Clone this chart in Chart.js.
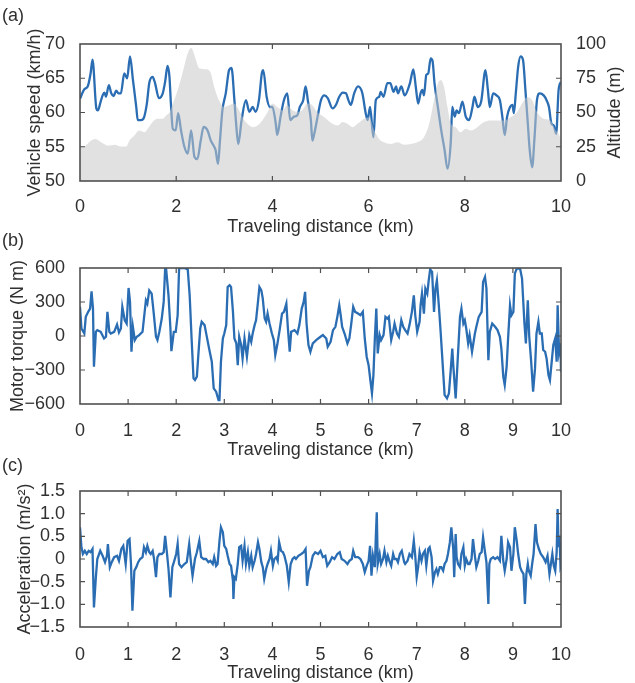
<!DOCTYPE html>
<html lang="en">
<head>
<meta charset="UTF-8">
<title>Vehicle speed, motor torque and acceleration</title>
<script src="https://cdn.jsdelivr.net/npm/chart.js"></script>
<style>
  html, body { margin: 0; padding: 0; background: #fff; overflow: hidden; }
  body { width: 635px; height: 683px; position: relative; font-family: "Liberation Sans", Arial, sans-serif; }
  canvas { position: absolute; left: 0; }
  .tag { position: absolute; left: 2px; font-size: 18px; line-height: 20px; color: #303030; }
</style>
</head>
<body>
<canvas id="speedChart" width="635" height="241" style="top:0px"></canvas>
<canvas id="torqueChart" width="635" height="214" style="top:250px"></canvas>
<canvas id="accelChart" width="635" height="217" style="top:470px"></canvas>
<div class="tag" style="top:5px">(a)</div>
<div class="tag" style="top:230px">(b)</div>
<div class="tag" style="top:455px">(c)</div>

<script>
// ---- (a) vehicle speed and road altitude ----
const speedKm = [0.00, 0.09, 0.16, 0.22, 0.26, 0.34, 0.37, 0.43, 0.47, 0.51, 0.54, 0.60, 0.65, 0.70, 0.75, 0.80,
  0.85, 0.92, 0.98, 1.04, 1.10, 1.17, 1.20, 1.27, 1.32, 1.39, 1.44, 1.51, 1.56, 1.64, 1.72, 1.77, 1.82, 1.86,
  1.89, 1.93, 1.99, 2.04, 2.10, 2.17, 2.24, 2.31, 2.38, 2.44, 2.51, 2.57, 2.65, 2.72, 2.79, 2.82, 2.87, 2.91,
  2.96, 3.03, 3.10, 3.15, 3.21, 3.24, 3.29, 3.36, 3.45, 3.52, 3.59, 3.65, 3.72, 3.78, 3.81, 3.88, 3.95, 4.00,
  4.07, 4.10, 4.17, 4.24, 4.31, 4.37, 4.45, 4.52, 4.57, 4.64, 4.69, 4.74, 4.80, 4.83, 4.87, 4.94, 5.01, 5.08,
  5.15, 5.25, 5.32, 5.39, 5.46, 5.53, 5.58, 5.63, 5.70, 5.78, 5.87, 5.94, 5.98, 6.03, 6.10, 6.15, 6.22, 6.25,
  6.31, 6.39, 6.45, 6.52, 6.57, 6.61, 6.68, 6.75, 6.86, 6.93, 6.98, 7.03, 7.08, 7.12, 7.15, 7.20, 7.24, 7.29,
  7.33, 7.37, 7.44, 7.51, 7.58, 7.64, 7.71, 7.74, 7.79, 7.83, 7.88, 7.95, 8.02, 8.09, 8.16, 8.20, 8.27, 8.34,
  8.43, 8.48, 8.52, 8.59, 8.66, 8.73, 8.78, 8.83, 8.88, 8.94, 8.99, 9.02, 9.06, 9.11, 9.16, 9.21, 9.26, 9.31,
  9.35, 9.40, 9.45, 9.50, 9.56, 9.64, 9.70, 9.75, 9.80, 9.85, 9.90, 9.95, 10.00];
const speedKmh = [62.0, 63.4, 63.8, 65.7, 67.7, 60.6, 60.3, 61.6, 62.5, 62.9, 62.3, 64.0, 62.8, 62.4, 63.2, 62.8,
  62.8, 65.7, 65.0, 68.2, 64.8, 60.8, 58.9, 58.9, 59.1, 61.3, 64.3, 65.2, 64.3, 62.1, 62.8, 64.5, 66.8, 65.2,
  61.3, 57.6, 57.4, 59.9, 57.4, 55.0, 54.0, 57.4, 53.5, 53.2, 55.9, 57.9, 57.4, 55.9, 55.0, 54.5, 52.5, 55.9,
  60.3, 62.8, 66.2, 66.5, 61.8, 58.9, 55.4, 58.9, 61.8, 60.1, 60.8, 60.1, 61.8, 65.7, 66.2, 62.3, 60.8, 60.8,
  58.4, 56.7, 59.4, 61.8, 62.8, 58.9, 59.4, 59.6, 60.8, 61.8, 63.8, 61.6, 58.9, 55.9, 56.9, 59.4, 61.8, 62.5,
  62.1, 60.6, 61.1, 62.3, 62.9, 62.8, 61.8, 61.1, 62.8, 63.8, 62.8, 59.9, 58.9, 60.8, 56.4, 61.8, 62.3, 63.0,
  62.3, 64.3, 64.3, 63.0, 63.8, 62.8, 63.8, 62.5, 64.3, 66.3, 63.8, 61.3, 62.8, 63.3, 62.5, 65.5, 65.7, 67.9,
  67.5, 64.3, 60.8, 57.4, 54.5, 51.8, 55.9, 60.8, 59.4, 60.3, 59.9, 61.6, 59.4, 58.9, 60.8, 62.3, 60.8, 61.6,
  66.2, 63.3, 60.8, 62.8, 62.5, 61.8, 59.4, 56.7, 59.4, 60.8, 61.1, 59.9, 62.8, 66.7, 68.2, 67.7, 63.3, 58.4,
  54.5, 52.0, 56.4, 61.8, 62.8, 62.5, 61.8, 60.8, 58.4, 58.1, 56.9, 63.3, 64.5];

const altKm = [0.00, 0.09, 0.23, 0.33, 0.44, 0.58, 0.72, 0.85, 0.96, 1.03, 1.13, 1.23, 1.34, 1.41, 1.51, 1.61,
  1.72, 1.79, 1.86, 1.93, 2.03, 2.13, 2.24, 2.31, 2.34, 2.41, 2.48, 2.62, 2.72, 2.79, 2.89, 3.00, 3.10, 3.20,
  3.27, 3.38, 3.48, 3.59, 3.69, 3.79, 3.90, 4.00, 4.10, 4.21, 4.31, 4.42, 4.52, 4.62, 4.73, 4.83, 4.93, 5.08,
  5.25, 5.36, 5.46, 5.56, 5.67, 5.77, 5.91, 6.01, 6.12, 6.22, 6.32, 6.46, 6.60, 6.74, 6.88, 7.01, 7.15, 7.26,
  7.36, 7.44, 7.50, 7.57, 7.64, 7.71, 7.81, 7.91, 8.02, 8.12, 8.26, 8.40, 8.54, 8.67, 8.81, 8.95, 9.09, 9.19,
  9.30, 9.40, 9.50, 9.64, 9.78, 9.89, 9.95, 10.00];
const altM = [24.6, 25.1, 29.5, 30.7, 28.2, 25.8, 26.5, 25.1, 25.1, 29.5, 33.2, 36.8, 35.6, 38.1, 43.0, 45.4,
  45.4, 47.9, 50.0, 56.5, 66.3, 78.6, 93.3, 97.0, 95.8, 88.4, 82.3, 81.5, 78.6, 68.7, 58.9, 54.0, 55.3, 56.5,
  54.0, 46.6, 41.7, 39.3, 40.5, 44.2, 50.4, 56.5, 54.0, 51.6, 55.3, 51.6, 50.4, 51.6, 56.5, 55.3, 50.4, 46.6,
  41.7, 40.5, 43.0, 41.7, 39.3, 41.7, 45.4, 46.6, 36.8, 30.7, 28.2, 27.0, 28.2, 26.5, 27.0, 28.2, 31.9, 41.7,
  58.9, 71.2, 73.7, 68.7, 54.0, 41.7, 39.3, 35.6, 38.1, 36.8, 39.3, 43.0, 44.2, 44.2, 44.2, 46.6, 50.4, 56.5,
  61.4, 58.9, 50.4, 45.4, 44.2, 36.8, 34.4, 30.0];

// ---- (b) motor torque ----
const torqueKm = [0.00, 0.03, 0.09, 0.12, 0.17, 0.21, 0.24, 0.27, 0.29, 0.33, 0.36, 0.43, 0.50, 0.54, 0.57, 0.61,
  0.64, 0.71, 0.77, 0.81, 0.85, 0.88, 0.93, 0.97, 1.01, 1.04, 1.07, 1.10, 1.14, 1.18, 1.23, 1.30, 1.37, 1.40,
  1.44, 1.49, 1.53, 1.58, 1.61, 1.65, 1.70, 1.74, 1.77, 1.79, 1.84, 1.88, 1.90, 1.95, 1.99, 2.03, 2.06, 2.10,
  2.17, 2.24, 2.28, 2.32, 2.36, 2.39, 2.43, 2.46, 2.50, 2.53, 2.59, 2.63, 2.69, 2.74, 2.78, 2.83, 2.88, 2.90,
  2.93, 2.97, 3.00, 3.04, 3.07, 3.11, 3.14, 3.18, 3.21, 3.25, 3.28, 3.31, 3.35, 3.38, 3.42, 3.47, 3.52, 3.56,
  3.59, 3.63, 3.66, 3.70, 3.73, 3.77, 3.80, 3.84, 3.87, 3.90, 3.94, 3.99, 4.03, 4.06, 4.10, 4.15, 4.20, 4.24,
  4.29, 4.32, 4.36, 4.39, 4.46, 4.52, 4.56, 4.61, 4.65, 4.68, 4.71, 4.75, 4.79, 4.84, 4.91, 5.00, 5.05, 5.12,
  5.15, 5.21, 5.26, 5.31, 5.35, 5.39, 5.42, 5.45, 5.50, 5.56, 5.60, 5.64, 5.68, 5.72, 5.78, 5.83, 5.88, 5.92,
  5.96, 6.00, 6.04, 6.07, 6.10, 6.13, 6.16, 6.19, 6.23, 6.26, 6.31, 6.35, 6.39, 6.42, 6.47, 6.51, 6.54, 6.59,
  6.63, 6.68, 6.72, 6.76, 6.81, 6.85, 6.90, 6.94, 6.97, 7.01, 7.06, 7.08, 7.11, 7.15, 7.18, 7.22, 7.25, 7.28,
  7.32, 7.36, 7.39, 7.42, 7.46, 7.50, 7.55, 7.58, 7.63, 7.67, 7.71, 7.74, 7.76, 7.81, 7.85, 7.90, 7.93, 7.97,
  8.00, 8.03, 8.07, 8.10, 8.15, 8.21, 8.24, 8.29, 8.35, 8.38, 8.42, 8.45, 8.49, 8.52, 8.57, 8.63, 8.68, 8.73,
  8.76, 8.80, 8.83, 8.87, 8.90, 8.94, 8.97, 9.01, 9.04, 9.08, 9.15, 9.19, 9.24, 9.27, 9.31, 9.34, 9.38, 9.42,
  9.46, 9.49, 9.53, 9.56, 9.60, 9.63, 9.67, 9.70, 9.74, 9.77, 9.81, 9.84, 9.88, 9.91, 9.93, 9.96, 9.99, 10.00];
const torqueNm = [257, 66, 22, 169, 213, 242, 394, 242, -271, 37, 52, 37, -22, -7, 213, 37,
  22, 37, 101, 31, 66, 257, 139, 110, 424, 301, -139, 81, -36, -7, 8, 37, 315, 286,
  403, 374, 213, -7, -36, 37, 154, 301, 594, 594, 359, 66, -134, 37, 37, 183, 594, 600,
  600, 588, 359, -22, -374, -389, -359, -169, 66, 125, 96, 8, -124, -227, -462, -491, -565, -565,
  -227, -22, 22, 96, 433, 448, 433, 213, -22, -65, -257, -7, -80, -198, -22, -183, 8, -51,
  22, 96, 139, 301, 433, 403, 330, 154, 125, 198, 110, 22, -36, -169, -80, 52, 198, 213,
  286, 81, -139, 37, 52, 22, 96, 242, 301, 389, 110, -80, -139, -65, -36, -7, 8, -22,
  -95, -51, 52, 81, 169, 271, 183, 81, 22, -65, -22, 110, 257, 213, 198, 183, 213, -22,
  -183, -257, -403, -506, -345, -22, 242, -154, 8, -36, 8, 169, 154, 169, -36, 37, 110, 22,
  -7, 139, 81, 52, 22, 96, 213, 359, 183, 37, 125, 271, 374, 198, 418, 374, 491, 588,
  565, 213, 418, 491, 271, 22, -315, -520, -550, -506, -286, -110, -257, -550, -227, 169, 242, 110,
  139, 66, -65, 8, -139, 22, 81, 169, 213, 477, 521, 418, -213, 37, 110, 81, 52, -7,
  -110, -359, -432, -271, -22, 271, 183, 213, 550, 594, 594, 506, 110, -65, 315, -7, -227, -491,
  -286, 22, 125, 22, 22, -124, -139, -198, -345, -389, -213, -80, -22, -227, 271, -139, -65, -315];

// ---- (c) acceleration ----
const accelKm = [0.00, 0.03, 0.06, 0.10, 0.14, 0.18, 0.22, 0.26, 0.29, 0.33, 0.36, 0.42, 0.47, 0.52, 0.56, 0.58,
  0.62, 0.66, 0.71, 0.77, 0.81, 0.86, 0.90, 0.95, 0.99, 1.03, 1.06, 1.09, 1.13, 1.17, 1.21, 1.25, 1.30, 1.33,
  1.37, 1.40, 1.44, 1.47, 1.51, 1.54, 1.58, 1.61, 1.65, 1.70, 1.74, 1.77, 1.81, 1.84, 1.88, 1.92, 1.96, 2.00,
  2.03, 2.06, 2.11, 2.17, 2.22, 2.27, 2.31, 2.34, 2.39, 2.43, 2.48, 2.52, 2.57, 2.62, 2.67, 2.71, 2.76, 2.79,
  2.83, 2.86, 2.90, 2.93, 2.97, 3.00, 3.04, 3.07, 3.11, 3.14, 3.18, 3.19, 3.21, 3.24, 3.28, 3.31, 3.35, 3.38,
  3.42, 3.45, 3.49, 3.52, 3.56, 3.59, 3.63, 3.66, 3.70, 3.73, 3.77, 3.80, 3.83, 3.87, 3.90, 3.94, 3.97, 4.01,
  4.04, 4.08, 4.11, 4.14, 4.18, 4.22, 4.25, 4.30, 4.34, 4.38, 4.42, 4.46, 4.49, 4.54, 4.60, 4.65, 4.69, 4.72,
  4.76, 4.79, 4.84, 4.89, 4.95, 5.00, 5.05, 5.10, 5.14, 5.19, 5.24, 5.29, 5.35, 5.40, 5.44, 5.50, 5.56, 5.60,
  5.65, 5.68, 5.72, 5.78, 5.83, 5.88, 5.92, 5.96, 6.00, 6.03, 6.06, 6.09, 6.13, 6.15, 6.17, 6.19, 6.23, 6.26,
  6.30, 6.33, 6.37, 6.40, 6.44, 6.47, 6.51, 6.54, 6.58, 6.61, 6.65, 6.69, 6.74, 6.76, 6.81, 6.85, 6.90, 6.94,
  6.97, 7.00, 7.03, 7.06, 7.10, 7.13, 7.17, 7.20, 7.24, 7.27, 7.31, 7.34, 7.38, 7.41, 7.44, 7.48, 7.51, 7.55,
  7.58, 7.62, 7.65, 7.69, 7.72, 7.76, 7.78, 7.81, 7.83, 7.86, 7.90, 7.93, 7.97, 8.00, 8.03, 8.07, 8.10, 8.14,
  8.17, 8.21, 8.24, 8.28, 8.31, 8.35, 8.38, 8.42, 8.45, 8.49, 8.51, 8.54, 8.59, 8.63, 8.68, 8.73, 8.76, 8.80,
  8.83, 8.87, 8.90, 8.94, 8.97, 9.01, 9.04, 9.08, 9.11, 9.15, 9.18, 9.22, 9.25, 9.28, 9.31, 9.33, 9.37, 9.40,
  9.43, 9.47, 9.50, 9.54, 9.58, 9.63, 9.68, 9.72, 9.76, 9.79, 9.82, 9.85, 9.88, 9.91, 9.93, 9.95, 9.97, 9.99, 10.00];
const accelMs2 = [0.70, 0.26, 0.11, 0.18, 0.11, 0.18, 0.15, 0.22, -1.07, -0.40, 0.00, 0.18, 0.07, -0.07, 0.07, 0.33,
  -0.18, -0.07, 0.04, 0.07, -0.04, 0.22, 0.29, -0.11, 0.40, 0.44, -0.11, -1.14, -0.26, -0.18, -0.07, 0.00, 0.04, 0.26,
  0.15, 0.29, 0.15, 0.11, 0.18, 0.00, -0.40, 0.04, 0.11, 0.11, 0.15, 0.51, 0.11, -0.22, -0.85, -0.18, -0.04, 0.11,
  0.33, -0.11, -0.18, -0.11, -0.07, 0.33, -0.11, -0.37, 0.00, 0.15, 0.40, 0.04, 0.00, 0.00, -0.07, -0.04, -0.11, 0.04,
  -0.15, -0.11, 0.40, 0.70, 0.59, 0.29, 0.22, 0.07, -0.11, -0.15, -0.48, -0.88, -0.40, -0.44, -0.11, 0.26, 0.29, -0.04,
  0.29, -0.11, 0.15, -0.15, 0.07, -0.18, -0.04, 0.11, 0.37, 0.22, -0.07, -0.18, -0.44, -0.22, -0.11, 0.00, 0.18, -0.15,
  0.00, 0.04, -0.04, 0.37, 0.18, 0.15, 0.07, -0.15, -0.51, -0.11, 0.00, 0.04, 0.00, 0.07, 0.11, 0.15, 0.22, -0.59,
  -0.26, -0.18, 0.07, 0.15, 0.11, 0.18, 0.04, 0.07, -0.15, -0.07, 0.04, 0.00, 0.11, 0.15, 0.00, -0.04, -0.11, -0.04,
  0.00, 0.18, 0.04, 0.04, 0.00, -0.11, -0.29, -0.15, -0.04, 0.29, -0.37, 0.07, -0.18, 0.48, 1.03, -0.11, 0.11, -0.11,
  0.00, 0.18, -0.07, 0.07, -0.07, -0.15, 0.11, 0.00, 0.00, -0.07, 0.11, 0.18, -0.07, -0.11, -0.04, 0.11, 0.04, 0.40,
  0.07, -0.40, -0.18, 0.15, -0.04, 0.11, 0.18, -0.15, 0.22, 0.26, 0.04, -0.48, -0.29, -0.22, -0.33, -0.18, -0.18, -0.26,
  -0.11, -0.04, 0.11, 0.37, 0.70, 0.22, -0.40, 0.55, 0.04, -0.11, -0.18, 0.11, 0.26, -0.15, 0.00, -0.11, -0.11, 0.00,
  0.44, 0.07, -0.18, -0.04, 0.11, 0.15, 0.48, 0.15, -0.07, -0.99, -0.11, 0.00, 0.04, 0.00, 0.04, -0.04, 0.51, -0.04,
  -0.26, 0.00, 0.37, 0.26, -0.26, 0.11, 0.70, 0.40, 0.11, -0.18, -0.26, -0.33, -0.99, -0.33, -0.11, -0.26, -0.37, -0.11,
  0.11, 0.77, 0.37, 0.22, 0.11, 0.04, -0.07, 0.07, -0.33, -0.11, 0.11, -0.15, -0.26, 0.15, 1.10, 0.26, 0.51, -0.18, -0.15];

// ---- tick values and labels ----
const distTicksA = [0, 2, 4, 6, 8, 10];
const distTicks = [0, 1, 2, 3, 4, 5, 6, 7, 8, 9, 10];
const speedTicks = [50, 55, 60, 65, 70];
const altTicks = [0, 25, 50, 75, 100];
const torqueTicks = [-600, -300, 0, 300, 600];
const torqueLabels = ['\u2212600', '\u2212300', '0', '300', '600'];
const accelTicks = [-1.5, -1, -0.5, 0, 0.5, 1, 1.5];
const accelLabels = ['\u22121.5', '\u22121.0', '\u22120.5', '0', '0.5', '1.0', '1.5'];

const lineColor = '#2a6db3';
const textColor = '#303030';
const axisColor = '#505050';
const fontSpec = { family: '"Liberation Sans", Arial, sans-serif', size: 18 };

Chart.defaults.font.family = fontSpec.family;
Chart.defaults.font.size = 18;
Chart.defaults.color = textColor;

const pts = (xs, ys) => xs.map((x, i) => ({ x: x, y: ys[i] }));

// box around the plot area with MATLAB-style inward ticks
const boxTicks = {
  id: 'boxTicks',
  afterDatasetsDraw(chart) {
    const { ctx, chartArea: a, scales } = chart;
    const len = 5;
    ctx.save();
    ctx.strokeStyle = axisColor;
    ctx.lineWidth = 1.2;
    ctx.beginPath();
    scales.x.ticks.forEach(t => {
      const px = scales.x.getPixelForValue(t.value);
      if (px <= a.left + 1 || px >= a.right - 1) return;
      ctx.moveTo(px, a.bottom); ctx.lineTo(px, a.bottom - len);
      ctx.moveTo(px, a.top); ctx.lineTo(px, a.top + len);
    });
    scales.y.ticks.forEach(t => {
      const py = scales.y.getPixelForValue(t.value);
      if (py <= a.top + 1 || py >= a.bottom - 1) return;
      ctx.moveTo(a.left, py); ctx.lineTo(a.left + len, py);
      ctx.moveTo(a.right, py); ctx.lineTo(a.right - len, py);
    });
    ctx.stroke();
    ctx.lineWidth = 1.6;
    ctx.strokeRect(a.left, a.top, a.right - a.left, a.bottom - a.top);
    ctx.restore();
  }
};

// right-hand axis title, written bottom-to-top like the left one
const rightTitle = {
  id: 'rightTitle',
  afterDraw(chart, args, opts) {
    if (!opts || !opts.text) return;
    const { ctx, chartArea: a } = chart;
    ctx.save();
    ctx.translate(opts.x, (a.top + a.bottom) / 2);
    ctx.rotate(-Math.PI / 2);
    ctx.font = '18px ' + fontSpec.family;
    ctx.fillStyle = textColor;
    ctx.textAlign = 'center';
    ctx.textBaseline = 'middle';
    ctx.fillText(opts.text, 0, 0);
    ctx.restore();
  }
};

function xAxis(ticks, pad) {
  return {
    type: 'linear', min: 0, max: 10,
    grid: { display: false }, border: { display: false },
    afterBuildTicks: s => { s.ticks = ticks.map(v => ({ value: v })); },
    afterFit: s => { s.height = 60; },
    ticks: { padding: pad, maxRotation: 0, autoSkip: false, color: textColor, font: fontSpec, callback: v => String(v) },
    title: { display: true, text: 'Traveling distance (km)', color: textColor, font: fontSpec, padding: { top: 0, bottom: 3 } }
  };
}

function yAxis(min, max, ticks, labels, title, titlePad, position, width) {
  return {
    type: 'linear', position: position || 'left', min: min, max: max,
    grid: { display: false }, border: { display: false },
    afterBuildTicks: s => { s.ticks = ticks.map(v => ({ value: v })); },
    afterFit: s => { s.width = width || 80; },
    ticks: { padding: 7, autoSkip: false, color: textColor, font: fontSpec, callback: (v, i) => labels[i] },
    title: { display: !!title, text: title, color: textColor, font: fontSpec, padding: { top: titlePad, bottom: 0 } }
  };
}

const common = {
  responsive: false,
  animation: false,
  events: [],
  plugins: { legend: { display: false }, tooltip: { enabled: false } }
};

// (a) speed line under a translucent altitude area
new Chart(document.getElementById('speedChart'), {
  type: 'line',
  data: {
    datasets: [
      {
        label: 'Altitude',
        data: pts(altKm, altM),
        yAxisID: 'y2',
        order: 0,
        fill: 'origin',
        backgroundColor: 'rgba(200, 200, 200, 0.55)',
        borderWidth: 0,
        pointRadius: 0,
        cubicInterpolationMode: 'monotone'
      },
      {
        label: 'Vehicle speed',
        data: pts(speedKm, speedKmh),
        yAxisID: 'y',
        order: 1,
        borderColor: lineColor,
        borderWidth: 2.3,
        pointRadius: 0,
        fill: false,
        cubicInterpolationMode: 'monotone'
      }
    ]
  },
  options: Object.assign({}, common, {
    layout: { padding: { top: 44, right: 0, bottom: 0, left: 0 } },
    scales: {
      x: xAxis(distTicksA, 7),
      y: yAxis(50, 70, speedTicks, speedTicks.map(String), 'Vehicle speed (km/h)', 24),
      y2: yAxis(0, 100, altTicks, altTicks.map(String), '', 0, 'right', 74)
    },
    plugins: Object.assign({}, common.plugins, { rightTitle: { text: 'Altitude (m)', x: 615 } })
  }),
  plugins: [boxTicks, rightTitle]
});

// (b) motor torque
new Chart(document.getElementById('torqueChart'), {
  type: 'line',
  data: {
    datasets: [{
      label: 'Motor torque',
      data: pts(torqueKm, torqueNm),
      borderColor: lineColor,
      borderWidth: 2.3,
      pointRadius: 0,
      fill: false,
      tension: 0
    }]
  },
  options: Object.assign({}, common, {
    layout: { padding: { top: 18, right: 74, bottom: 0, left: 0 } },
    scales: {
      x: xAxis(distTicks, 8),
      y: yAxis(-600, 600, torqueTicks, torqueLabels, 'Motor torque (N m)', 7)
    }
  }),
  plugins: [boxTicks]
});

// (c) acceleration
new Chart(document.getElementById('accelChart'), {
  type: 'line',
  data: {
    datasets: [{
      label: 'Acceleration',
      data: pts(accelKm, accelMs2),
      borderColor: lineColor,
      borderWidth: 2.3,
      pointRadius: 0,
      fill: false,
      tension: 0
    }]
  },
  options: Object.assign({}, common, {
    layout: { padding: { top: 21, right: 74, bottom: 0, left: 0 } },
    scales: {
      x: xAxis(distTicks, 9),
      y: yAxis(-1.5, 1.5, accelTicks, accelLabels, 'Acceleration (m/s\u00b2)', 14)
    }
  }),
  plugins: [boxTicks]
});
</script>
</body>
</html>
